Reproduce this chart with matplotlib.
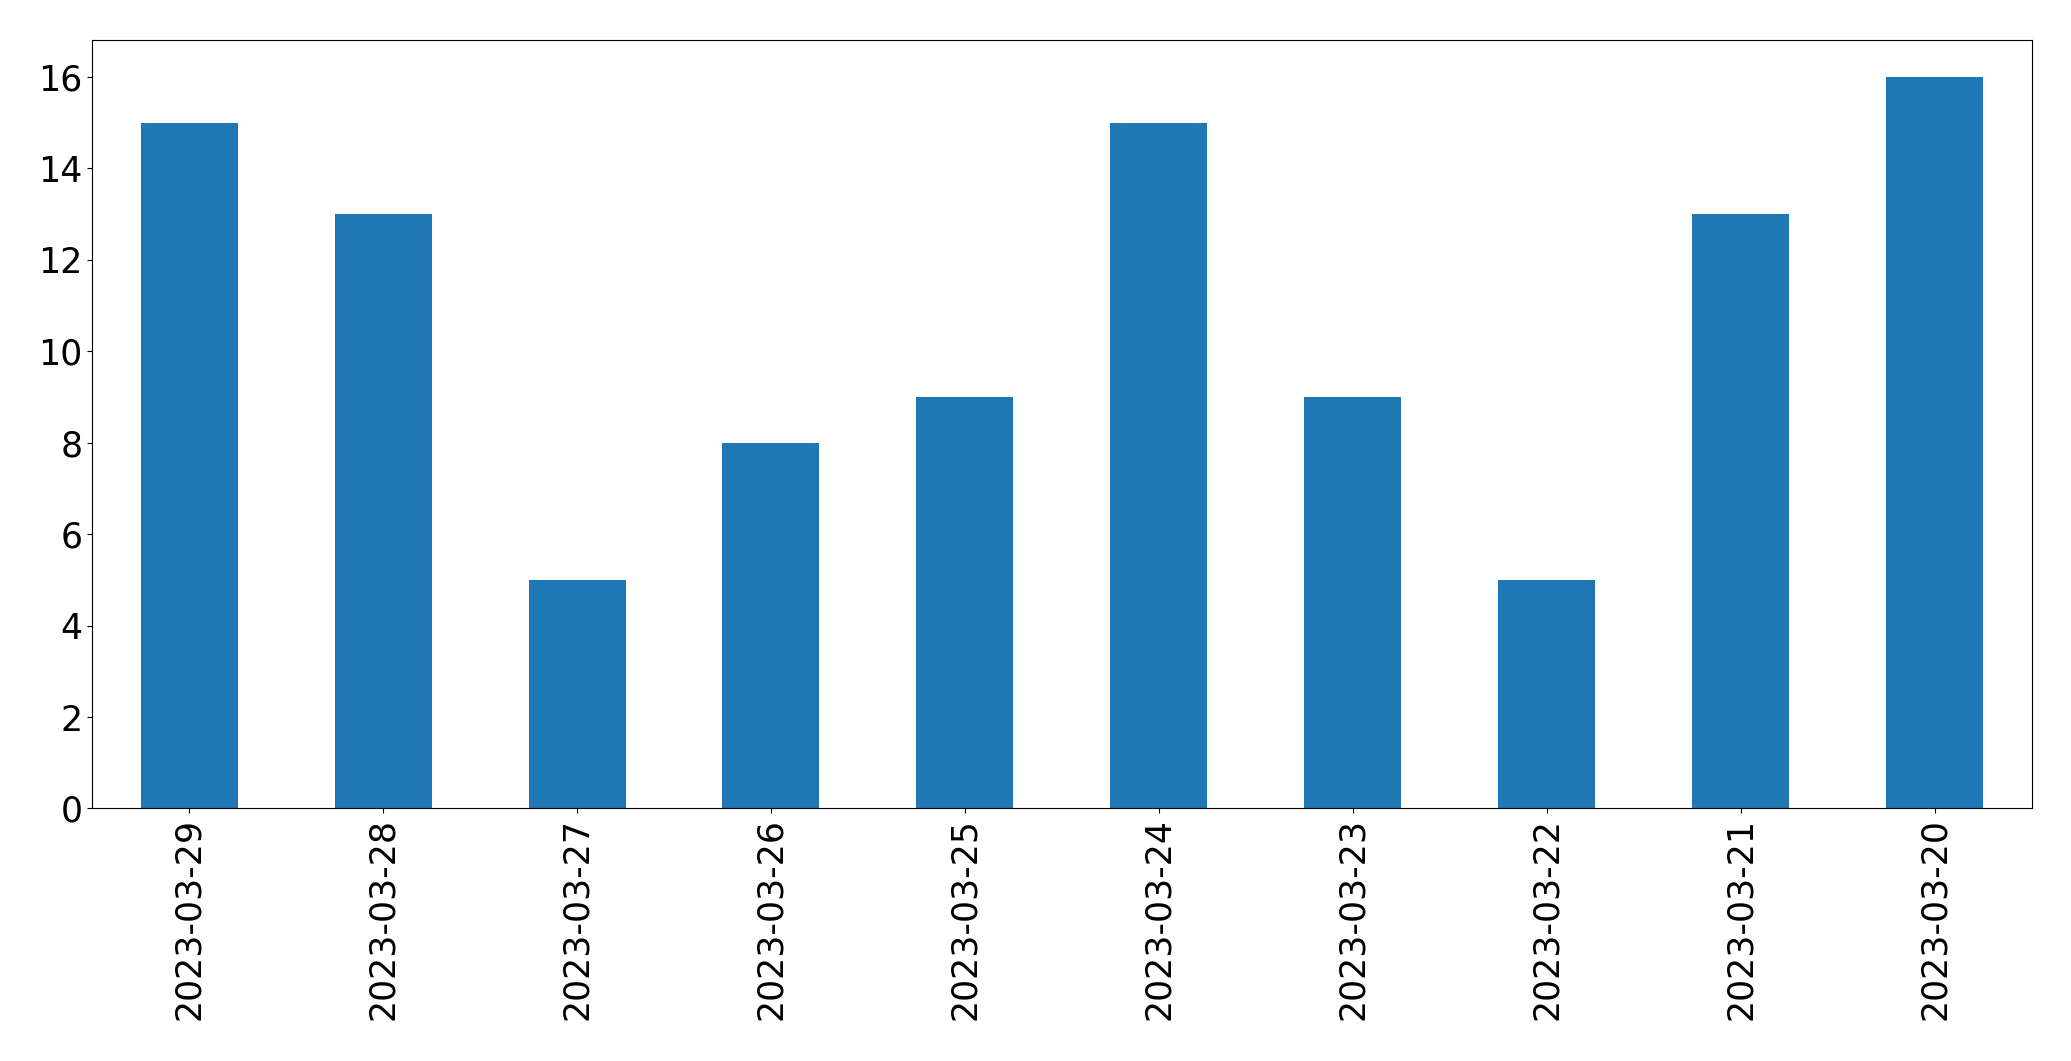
import matplotlib
matplotlib.use("Agg")
import matplotlib.pyplot as plt
import pandas as pd

dates = ["2023-03-29", "2023-03-28", "2023-03-27", "2023-03-26", "2023-03-25",
         "2023-03-24", "2023-03-23", "2023-03-22", "2023-03-21", "2023-03-20"]
counts = [15, 13, 5, 8, 9, 15, 9, 5, 13, 16]

plt.rcParams["font.size"] = 25

s = pd.Series(counts, index=dates)
fig, ax = plt.subplots(figsize=(20.71, 10.61), dpi=100)
s.plot(kind="bar", ax=ax, color="#1f77b4")
ax.tick_params(labelsize=25)
fig.subplots_adjust(left=0.0445, right=0.981, top=0.962, bottom=0.238)
fig.savefig("out.png", dpi=100)
